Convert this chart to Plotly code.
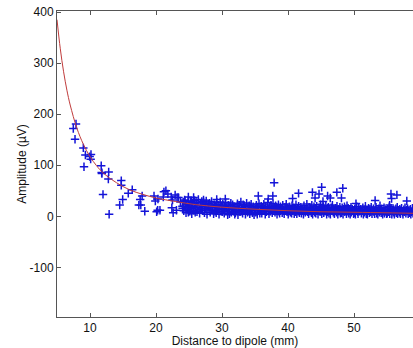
import plotly.graph_objects as go

# Sparse points close to the dipole
near_distance = [7.88, 7.47, 7.73, 8.99, 9.3, 10.15, 9.95, 10.1, 9.09, 11.7, 11.77, 11.8, 12.83, 12.78,
                 14.74, 14.74, 15.8, 14.95, 14.5, 11.97, 12.9, 16.4, 17.6, 17.9, 17.4, 18.3, 19.7, 20.3,
                 20.1, 20.25, 20.6, 21.2, 21.5, 21.1, 22.3, 22.5, 22.9, 22.4, 22.6, 23.1, 23.2, 23.4,
                 24.0, 24.9, 25.7, 24.8, 24.9, 19.9, 21.8, 23.7, 25.4, 24.4, 17.7]
near_amplitude = [181, 172, 151, 134, 120, 121, 117, 112, 97, 99, 86, 84, 87, 73,
                  70, 61, 45, 33, 22, 43, 4, 52, 33, 40, 22, 10, 40, 34,
                  9, 12, 12, 48, 50, 38, 38, 32, 42, 17, 7, 12, 37, 37,
                  20, 38, 37, 18, 8, 30, 44, 28, 28, 30, 22]

# Dense band of far points (one row per mm)
band_offsets = [0.03, 0.12, 0.21, 0.34, 0.42, 0.55, 0.61, 0.73, 0.86, 0.94]
band_start_mm = [24, 25, 26, 27, 28, 29, 30, 31, 32, 33, 34, 35, 36, 37, 38, 39, 40, 41,
                 42, 43, 44, 45, 46, 47, 48, 49, 50, 51, 52, 53, 54, 55, 56, 57, 58]
band_amplitude = [
    [16, 28, 11, 32, 20, 7, 24, 14, 30, 18],
    [22, 10, 29, 15, 5, 26, 19, 12, 31, 8],
    [17, 27, 9, 21, 33, 13, 6, 24, 16, 29],
    [11, 20, 28, 7, 23, 15, 30, 4, 18, 25],
    [14, 26, 8, 21, 29, 12, 17, 5, 23, 10],
    [19, 7, 27, 13, 22, 4, 16, 28, 10, 20],
    [9, 24, 15, 6, 20, 27, 11, 17, 3, 22],
    [13, 5, 21, 26, 8, 16, 23, 10, 18, 4],
    [7, 19, 12, 25, 3, 15, 22, 9, 28, 14],
    [17, 6, 23, 11, 20, 4, 14, 26, 8, 16],
    [10, 21, 5, 16, 24, 12, 7, 19, 3, 13],
    [15, 8, 22, 4, 18, 11, 25, 6, 14, 20],
    [6, 18, 11, 24, 14, 4, 20, 9, 16, 27],
    [13, 5, 19, 10, 22, 15, 7, 25, 12, 17],
    [8, 21, 14, 4, 17, 23, 10, 6, 19, 13],
    [15, 7, 22, 11, 5, 18, 13, 24, 9, 16],
    [4, 12, 19, 8, 15, 6, 21, 11, 17, 5],
    [14, 9, 23, 5, 16, 10, 20, 7, 13, 18],
    [6, 17, 11, 4, 21, 13, 8, 15, 24, 9],
    [12, 5, 18, 10, 15, 7, 22, 4, 14, 19],
    [8, 16, 6, 20, 11, 4, 13, 17, 9, 23],
    [15, 5, 12, 19, 7, 14, 10, 21, 4, 16],
    [9, 18, 6, 13, 4, 17, 11, 22, 8, 14],
    [5, 12, 16, 8, 20, 4, 14, 10, 18, 6],
    [13, 7, 17, 4, 11, 19, 9, 15, 5, 21],
    [10, 16, 6, 13, 4, 18, 8, 14, 11, 5],
    [7, 15, 4, 12, 19, 9, 5, 16, 10, 13],
    [14, 6, 11, 17, 4, 13, 8, 20, 5, 10],
    [4, 12, 16, 7, 14, 9, 18, 5, 11, 15],
    [9, 5, 13, 18, 6, 11, 4, 15, 8, 21],
    [12, 7, 15, 4, 10, 17, 6, 13, 9, 5],
    [6, 14, 9, 19, 5, 12, 16, 4, 11, 8],
    [13, 4, 10, 15, 7, 18, 5, 12, 8, 14],
    [5, 11, 16, 8, 4, 13, 9, 17, 6, 12],
    [10, 15, 5, 12, 7, 14, 4, 9, 16, 6],
]

# Upper outliers
outlier_distance = [37.9, 35.5, 37.7, 37.0, 41.6, 40.7, 43.7, 44.7, 45.1, 44.1, 45.3, 46.0, 46.4,
                    47.4, 48.3, 48.1, 50.3, 53.2, 55.6, 56.5, 55.7, 55.4, 58.0, 29.2, 30.5, 27.2]
outlier_amplitude = [66, 40, 40, 34, 45, 35, 47, 44, 57, 36, 29, 40, 36,
                     47, 55, 36, 25, 31, 44, 42, 35, 22, 30, 33, 34, 32]

# Fitted decay curve
fit_distance = [5, 5.5, 6, 6.5, 7, 8, 9, 10, 11, 12, 14, 16, 18, 20, 23, 26, 30, 35, 40, 45, 50, 55, 59]
fit_amplitude = [385, 328, 283, 247, 218, 173, 141, 117, 99, 85, 66, 52, 43, 36, 29, 23, 18, 14, 11, 9, 8, 7, 6]

x_ticks = [10, 20, 30, 40, 50]
y_ticks = [-100, 0, 100, 200, 300, 400]
y_tick_labels = ["-100", "0", "100", "200", "300", "400"]

distance = list(near_distance)
amplitude = list(near_amplitude)
for mm, row in zip(band_start_mm, band_amplitude):
    for off, a in zip(band_offsets, row):
        distance.append(round(mm + off, 2))
        amplitude.append(a)
distance += outlier_distance
amplitude += outlier_amplitude

fig = go.Figure()
fig.add_trace(go.Scatter(
    x=distance, y=amplitude, mode="markers",
    marker=dict(symbol="cross-thin-open", size=6, color="#1414d8",
                line=dict(color="#1414d8", width=1.5)),
    showlegend=False,
))
fig.add_trace(go.Scatter(
    x=fit_distance, y=fit_amplitude, mode="lines", line_shape="spline",
    line=dict(color="#c03c3c", width=1), showlegend=False,
))

font = dict(family="Arial, Liberation Sans, sans-serif", size=12, color="#111")
axis_common = dict(showgrid=False, zeroline=False, showline=True, linecolor="#555", linewidth=1,
                   ticks="inside", ticklen=4, tickcolor="#555", tickfont=font)

fig.update_layout(
    width=413, height=348,
    margin=dict(l=57, r=0, t=11, b=31),
    paper_bgcolor="white", plot_bgcolor="white",
    font=font,
    xaxis=dict(range=[5, 58.94], tickvals=x_ticks, mirror="ticks",
               title=dict(text="Distance to dipole (mm)", font=font, standoff=0), **axis_common),
    yaxis=dict(range=[-197, 402], tickvals=y_ticks, ticktext=y_tick_labels, mirror=False,
               title=dict(text="Amplitude (µV)", font=font, standoff=0), **axis_common),
)

fig.write_html("out.html")
